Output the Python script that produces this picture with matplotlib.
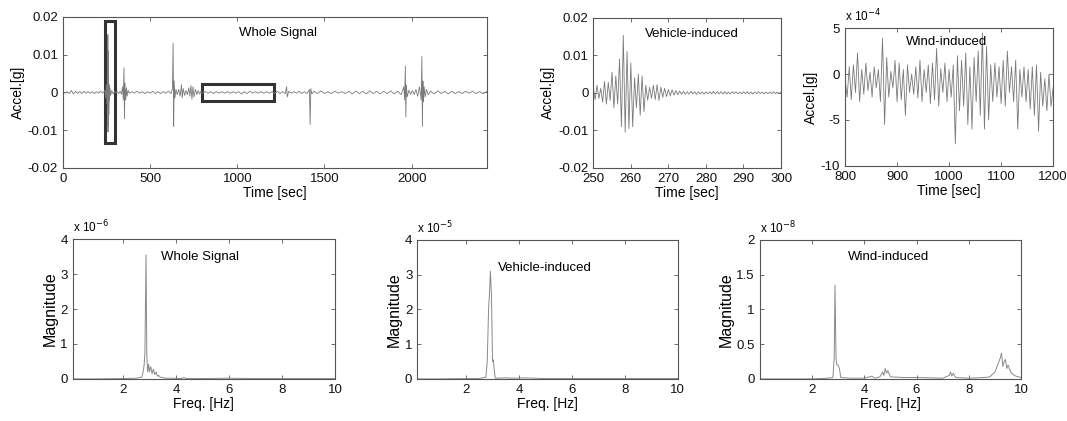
import numpy as np
import matplotlib.pyplot as plt
from matplotlib.patches import Rectangle

plt.rcParams['font.family'] = ['Liberation Sans', 'DejaVu Sans']
plt.rcParams['axes.unicode_minus'] = False

# ---------------- data ----------------
# whole record, acceleration in 1e-3 g
whole_time = [
    0, 12, 24, 36, 48, 60, 72, 84, 96, 108, 120, 132, 144, 156, 168, 180, 192, 204, 216, 228, 240,
    244, 248, 252, 255, 256.5, 257.5, 258.5, 259.5, 260.5, 262, 263, 265, 267, 270, 274, 280, 288, 296,
    304, 312, 320, 328, 336,
    342, 346, 350, 353, 356, 360, 364, 368, 374,
    380, 395, 410, 425, 440, 455, 470, 485, 500, 515, 530, 545, 560, 575, 590, 605, 620,
    628, 632, 635, 638, 642, 648,
    656, 664, 672, 680, 684, 690, 698, 706, 714, 722, 728, 734, 740, 746, 752, 760, 768, 776, 784, 792,
    800, 816, 832, 848, 864, 880, 896, 912, 928, 944, 960, 976, 992, 1008, 1024, 1040, 1056, 1072,
    1088, 1104, 1120, 1136, 1152, 1168, 1184, 1200,
    1215, 1230, 1245, 1260, 1275, 1283, 1287, 1295, 1310, 1325, 1340, 1355, 1370, 1385, 1400,
    1414, 1418, 1422, 1428,
    1440, 1460, 1480, 1500, 1520, 1540, 1560, 1580, 1600, 1620, 1640, 1660, 1680, 1700, 1720, 1740,
    1760, 1780, 1800, 1820, 1840, 1860, 1880, 1900, 1920, 1940,
    1955, 1960, 1964, 1967, 1970, 1975, 1985, 1995, 2005, 2015, 2025, 2035, 2045,
    2055, 2059, 2062, 2065, 2068, 2072, 2078, 2085, 2095,
    2110, 2130, 2150, 2170, 2190, 2210, 2230, 2250, 2270, 2290, 2310, 2330, 2350, 2370, 2390, 2410, 2430,
]
whole_acc = [
    0.1, -0.2, 0.2, -0.3, 0.5, -0.4, 0.3, -0.2, 0.2, -0.3, 0.3, -0.2, 0.2, -0.2, 0.2, -0.3, 0.2, -0.2, 0.3, -0.2, 0.5,
    -1.5, 2.0, -3.0, 5.5, -4.0, 15.3, -10.5, 11.0, -9.0, 5.0, -6.0, 2.0, -2.0, 1.2, -0.8, 0.5, -0.4, 0.3,
    -0.2, 0.2, -0.3, 0.3, -0.5,
    1.5, -2.0, 6.5, -7.0, 2.5, -2.0, 1.2, -1.0, 0.6,
    -0.2, 0.2, -0.2, 0.3, -0.2, 0.2, -0.3, 0.2, -0.2, 0.3, -0.3, 0.2, -0.3, 0.2, -0.2, 0.3, -0.3,
    1.0, 13.0, -9.0, 3.0, -1.5, 0.8,
    -0.6, 0.8, -1.0, 2.0, -1.5, 1.0, -0.8, 0.5, -0.6, 1.2, -1.0, 1.8, -1.8, 1.5, -1.2, 0.8, -0.6, 0.5, -0.4, 0.3,
    -0.2, 0.2, -0.2, 0.2, -0.3, 0.2, -0.2, 0.2, -0.2, 0.2, -0.2, 0.2, -0.2, 0.2, -0.4, 0.2, -0.3, 0.3,
    -0.2, 0.2, -0.2, 0.2, -0.2, 0.2, -0.2, 0.2,
    -0.3, 0.3, -0.3, 0.2, -0.3, 1.5, -1.2, 0.3, -0.2, 0.2, -0.2, 0.3, -0.3, 0.2, -0.3,
    0.8, -8.5, 1.0, -0.4,
    0.3, -0.3, 0.4, -0.3, 0.2, -0.3, 0.3, -0.2, 0.2, -0.3, 0.3, -0.4, 0.4, -0.3, 0.3, -0.4,
    0.4, -0.3, 0.3, -0.4, 0.3, -0.3, 0.4, -0.4, 0.3, -0.6,
    1.5, -2.0, 7.0, -6.5, 2.0, -1.2, 0.6, -0.5, 0.5, -0.6, 0.8, -1.0, 1.5,
    -2.0, 9.5, -9.0, 3.0, -2.5, 1.5, -1.2, 0.8, -0.6,
    0.3, -0.4, 0.4, -0.3, 0.3, -0.4, 0.3, -0.3, 0.2, -0.3, 0.3, -0.2, 0.3, -0.3, 0.2, -0.3, 0.2,
]

# vehicle-induced window, 250-300 s every 0.5 s, acceleration in 1e-3 g
veh_time = np.arange(250, 300.01, 0.5)
veh_acc = [
    1.5, -1.8, 2.0, -1.5, 1.2,
    -2.5, 3.0, -3.0, 2.8, -2.0,
    5.5, -4.0, 4.5, -3.0,
    9.0, -9.0, 15.3, -10.5, 11.0, -9.5, 8.0, -9.0,
    4.0, -4.0,
    5.0, -6.0, 4.5, -5.0,
    2.0, -2.0, 1.5, -1.5,
    2.0, -1.8, 2.2, -2.0, 1.5,
    -1.2, 1.2, -1.0, 0.9, -0.8, 0.8, -0.6, 0.6, -0.5, 0.5, -0.4, 0.4,
    -0.4, 0.3, -0.3, 0.4, -0.3, 0.3, -0.4, 0.3, -0.3, 0.3, -0.4, 0.3, -0.3,
    0.3, -0.3, 0.4, -0.3, 0.3, -0.3, 0.3, -0.3, 0.3, -0.3, 0.2, -0.3, 0.3,
    -0.2, 0.3, -0.3, 0.2, -0.3, 0.3, -0.2, 0.3, -0.3, 0.2, -0.3, 0.2, -0.2,
    0.3, -0.2, 0.2, -0.3, 0.2, -0.2, 0.2, -0.2, 0.3, -0.2, 0.2, -0.2, 0.2,
]

# wind-induced window, 800-1200 s every 4 s, acceleration in 1e-4 g
wind_time = np.arange(800, 1200.1, 4)
wind_acc = [
    -0.5, -2.5, 0.8, -2.8, 1.0, -2.0, 2.3, -3.0,
    0.5, -2.2, 1.2, -1.8, 0.2, -2.5, 0.8, -1.5,
    0.5, -3.0, 3.9, -5.5, 1.8, -2.5, 0.3, -1.5,
    1.5, -3.0, 1.2, -2.8, 0.5, -4.5, 1.0, -2.0,
    0.0, -2.2, 0.8, -2.6, 1.5, -3.0, 0.5, -2.0,
    1.0, -3.2, 1.2, -2.8, 2.8, -3.5, 0.6, -2.0,
    1.2, -3.0, 0.5, -2.5, 1.0, -7.6, 2.0, -4.0,
    1.5, -3.5, 2.3, -5.5, 0.8, -6.0, 1.8, -3.0,
    2.5, -4.5, 4.5, -6.0, 3.0, -5.0, 1.0, -3.0,
    1.2, -2.5, 0.8, -3.2, 1.5, -3.5, 2.5, -2.0,
    0.8, -3.0, 1.5, -6.0, 0.5, -2.5, 0.8, -3.0,
    0.5, -3.8, 0.8, -4.5, 1.0, -6.2, 0.2, -3.5,
    -0.5, -4.0, 0.0, -3.5, -1.5,
]

# spectra (magnitude in 1e-6, 1e-5, 1e-8)
whole_freq = [0.1, 1.0, 2.0, 2.5, 2.7, 2.75, 2.8, 2.83, 2.87, 2.9, 2.93, 2.97, 3.0, 3.05, 3.1, 3.15,
              3.2, 3.25, 3.3, 3.35, 3.4, 3.5, 3.6, 3.8, 4.2, 4.3, 4.4, 5.0, 6.0, 7.0, 8.0, 9.0, 10.0]
whole_mag = [0.0, 0.0, 0.01, 0.02, 0.05, 0.15, 0.4, 0.75, 3.55, 0.7, 0.2, 0.42, 0.2, 0.35, 0.15, 0.28,
             0.12, 0.2, 0.08, 0.1, 0.05, 0.04, 0.02, 0.02, 0.01, 0.04, 0.01, 0.01, 0.02, 0.01, 0.01, 0.01, 0.01]

veh_freq = [0.1, 1.0, 2.0, 2.5, 2.75, 2.8, 2.85, 2.88, 2.92, 2.96, 3.0, 3.03, 3.06, 3.1, 3.5, 3.8,
            4.2, 5.0, 6.0, 7.0, 8.0, 9.0, 10.0]
veh_mag = [0.0, 0.0, 0.01, 0.01, 0.05, 0.5, 2.0, 2.4, 3.1, 2.4, 0.5, 0.55, 0.3, 0.02, 0.03, 0.02,
           0.03, 0.01, 0.01, 0.01, 0.01, 0.01, 0.01]

wind_freq = [0.0, 1.0, 2.0, 2.6, 2.8, 2.85, 2.88, 2.92, 2.95, 3.0, 3.05, 3.1, 3.5, 4.0, 4.3, 4.4,
             4.6, 4.7, 4.75, 4.8, 4.85, 4.9, 5.0, 5.5, 6.0, 7.0, 7.25, 7.3, 7.35, 7.4, 7.5, 8.0, 8.6,
             8.8, 9.0, 9.1, 9.2, 9.25, 9.3, 9.35, 9.4, 9.45, 9.5, 9.6, 9.7, 9.8, 10.0]
wind_mag = [0.0, 0.0, 0.0, 0.01, 0.02, 0.3, 1.35, 0.3, 0.2, 0.2, 0.15, 0.02, 0.01, 0.01, 0.04, 0.01,
            0.03, 0.1, 0.05, 0.15, 0.08, 0.12, 0.03, 0.02, 0.02, 0.01, 0.05, 0.1, 0.04, 0.08, 0.02, 0.01, 0.02,
            0.03, 0.1, 0.2, 0.3, 0.37, 0.18, 0.25, 0.28, 0.15, 0.2, 0.1, 0.06, 0.04, 0.02]

# highlighted windows on the whole record: (t0, t1, a_low, a_high) in s and 1e-3 g
veh_box = (240, 298, -13.4, 19.0)
wind_box = (800, 1210, -2.2, 2.3)

line_col = '#7a7a7a'
frame_col = '#555555'


def style(ax):
    for s in ax.spines.values():
        s.set_color(frame_col)
        s.set_linewidth(0.8)
    ax.tick_params(direction='in', length=3, width=0.6, colors=frame_col,
                   labelcolor='#111111', labelsize=9.5, top=True, right=True)


fig = plt.figure(figsize=(10.67, 4.21), dpi=100)

# whole signal
ax1 = fig.add_axes([0.059, 0.601, 0.397, 0.359])
ax1.plot(whole_time, np.array(whole_acc) * 1e-3, color=line_col, lw=0.6)
for t0, t1, lo, hi in [veh_box, wind_box]:
    ax1.add_patch(Rectangle((t0, lo * 1e-3), t1 - t0, (hi - lo) * 1e-3, fill=False,
                            edgecolor='#333333', lw=2.2))
ax1.set_xlim(0, 2430)
ax1.set_ylim(-0.02, 0.02)
ax1.set_xticks([0, 500, 1000, 1500, 2000])
ax1.set_yticks([-0.02, -0.01, 0, 0.01, 0.02])
ax1.set_yticklabels(['-0.02', '-0.01', '0', '0.01', '0.02'])
ax1.set_xlabel('Time [sec]', fontsize=10, labelpad=1)
ax1.set_ylabel('Accel.[g]', fontsize=10, labelpad=2)
ax1.text(1236, 0.0158, 'Whole Signal', ha='center', va='center', fontsize=9.5)
style(ax1)

# vehicle-induced
ax2 = fig.add_axes([0.556, 0.601, 0.176, 0.357])
ax2.plot(veh_time, np.array(veh_acc) * 1e-3, color=line_col, lw=0.6)
ax2.set_xlim(250, 300)
ax2.set_ylim(-0.02, 0.02)
ax2.set_xticks([250, 260, 270, 280, 290, 300])
ax2.set_yticks([-0.02, -0.01, 0, 0.01, 0.02])
ax2.set_yticklabels(['-0.02', '-0.01', '0', '0.01', '0.02'])
ax2.set_xlabel('Time [sec]', fontsize=10, labelpad=1)
ax2.set_ylabel('Accel.[g]', fontsize=10, labelpad=2)
ax2.text(276.3, 0.0156, 'Vehicle-induced', ha='center', va='center', fontsize=9.5)
style(ax2)

# wind-induced
ax3 = fig.add_axes([0.792, 0.606, 0.195, 0.327])
ax3.plot(wind_time, wind_acc, color=line_col, lw=0.6)
ax3.set_xlim(800, 1200)
ax3.set_ylim(-10, 5)
ax3.set_xticks([800, 900, 1000, 1100, 1200])
ax3.set_yticks([-10, -5, 0, 5])
ax3.set_xlabel('Time [sec]', fontsize=10, labelpad=1)
ax3.set_ylabel('Accel.[g]', fontsize=10, labelpad=2)
ax3.text(996, 3.5, 'Wind-induced', ha='center', va='center', fontsize=9.5)
ax3.text(0.0, 1.03, 'x 10$^{-4}$', transform=ax3.transAxes, fontsize=8.5, va='bottom')
style(ax3)

# spectra
spectra = [
    ([0.068, 0.100, 0.246, 0.332], whole_freq, whole_mag, (0.1, 10), 4, [0, 1, 2, 3, 4],
     ['0', '1', '2', '3', '4'], 'Whole Signal', 4.9, 3.5, 'x 10$^{-6}$'),
    ([0.391, 0.100, 0.244, 0.330], veh_freq, veh_mag, (0.15, 10), 4, [0, 1, 2, 3, 4],
     ['0', '1', '2', '3', '4'], 'Vehicle-induced', 4.98, 3.2, 'x 10$^{-5}$'),
    ([0.712, 0.100, 0.245, 0.330], wind_freq, wind_mag, (0, 10), 2, [0, 0.5, 1, 1.5, 2],
     ['0', '0.5', '1', '1.5', '2'], 'Wind-induced', 4.92, 1.75, 'x 10$^{-8}$'),
]
for rect, f, m, xl, ytop, yt, ytl, title, tx, ty, scale in spectra:
    ax = fig.add_axes(rect)
    ax.plot(f, m, color='#8a8a8a', lw=0.7)
    ax.set_xlim(*xl)
    ax.set_ylim(0, ytop)
    ax.set_xticks([2, 4, 6, 8, 10])
    ax.set_yticks(yt)
    ax.set_yticklabels(ytl)
    ax.set_xlabel('Freq. [Hz]', fontsize=10, labelpad=1)
    ax.set_ylabel('Magnitude', fontsize=11.5, labelpad=2)
    ax.text(tx, ty, title, ha='center', va='center', fontsize=9.5)
    ax.text(0.0, 1.03, scale, transform=ax.transAxes, fontsize=8.5, va='bottom')
    style(ax)

fig.savefig('out.png', dpi=100)
